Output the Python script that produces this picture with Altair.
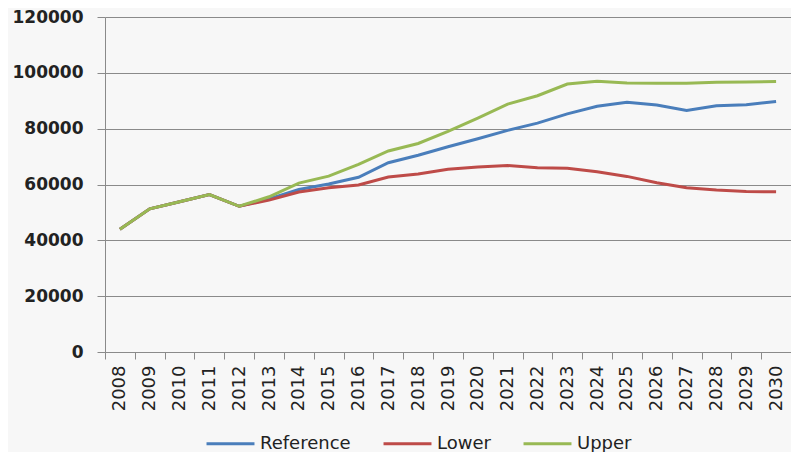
import altair as alt
import pandas as pd

years = [str(y) for y in range(2008, 2031)]
reference = [44000, 51300, 53800, 56400, 52200, 54800, 58200, 60200, 62600, 67800, 70500, 73500,
             76400, 79400, 82000, 85300, 88000, 89500, 88500, 86500, 88200, 88600, 89700]
lower = [44000, 51300, 53800, 56400, 52200, 54400, 57300, 58800, 59800, 62700, 63800, 65500,
         66300, 66800, 66000, 65800, 64600, 62900, 60600, 58800, 58000, 57500, 57400]
upper = [44000, 51300, 53800, 56400, 52200, 55600, 60500, 63000, 67200, 72000, 74700, 79000,
         83800, 88800, 91800, 96000, 97000, 96400, 96300, 96300, 96600, 96700, 96900]
series = ["Reference", "Lower", "Upper"]
colors = ["#4a7ebb", "#be4b48", "#98b954"]

rows = []
for name, vals in zip(series, [reference, lower, upper]):
    for y, v in zip(years, vals):
        rows.append({"Year": y, "Value": v, "Series": name})
df = pd.DataFrame(rows)

FONT = "DejaVu Sans"

chart = alt.Chart(df).mark_line(strokeWidth=3).encode(
    x=alt.X("Year:O", sort=years,
            scale=alt.Scale(type="band", paddingInner=0, paddingOuter=0),
            axis=alt.Axis(title=None, labelAngle=-90, tickBand="extent", labelAlign="right",
                          labelBaseline="middle", labelPadding=6, tickSize=7,
                          domainColor="#8a8a8a", tickColor="#8a8a8a", grid=False,
                          labelFont=FONT, labelFontSize=18, labelColor="#222222")),
    y=alt.Y("Value:Q", scale=alt.Scale(domain=[0, 120000]),
            axis=alt.Axis(title=None, values=list(range(0, 120001, 20000)), tickSize=8,
                          labelPadding=14, gridColor="#8a8a8a", gridWidth=1.2,
                          domainColor="#8a8a8a", tickColor="#8a8a8a", format="d",
                          labelFont=FONT, labelFontSize=17, labelFontWeight="bold",
                          labelColor="#222222")),
    color=alt.Color("Series:N", sort=series,
                    scale=alt.Scale(domain=series, range=colors),
                    legend=alt.Legend(title=None, orient="none", direction="horizontal",
                                      legendX=100, legendY=401, symbolType="stroke",
                                      symbolSize=2300, symbolStrokeWidth=3, labelOffset=4,
                                      columnPadding=26, labelFont=FONT, labelFontSize=18,
                                      labelColor="#222222")),
).properties(
    width=686, height=335,
    autosize=alt.AutoSizeParams(type="none"),
    padding={"left": 97, "top": 9, "right": 0, "bottom": 100},
    background="#f7f7f7",
).configure_view(stroke=None)

chart.save("out.html", embed_options={"renderer": "svg", "actions": False})
